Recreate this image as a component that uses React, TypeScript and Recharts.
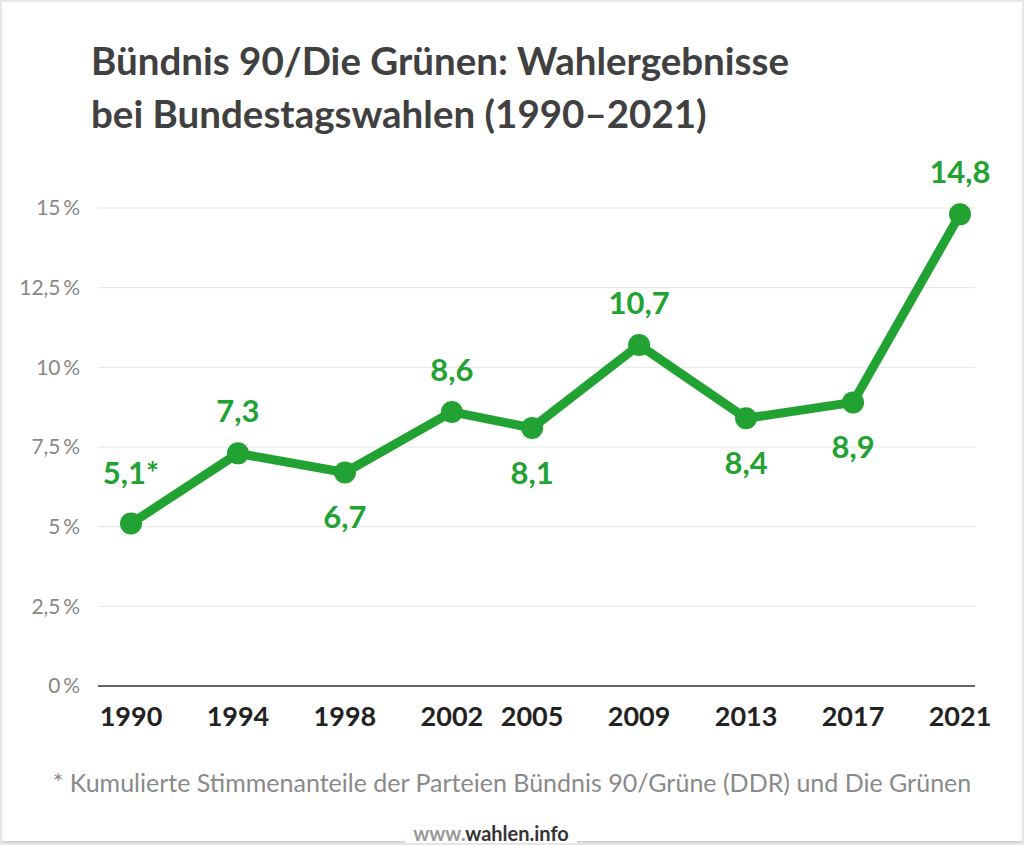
import { LineChart, Line, XAxis, YAxis, CartesianGrid, LabelList } from "recharts";

const years = [1990, 1994, 1998, 2002, 2005, 2009, 2013, 2017, 2021];
const shares = [5.1, 7.3, 6.7, 8.6, 8.1, 10.7, 8.4, 8.9, 14.8];
const pointLabels = ["5,1*", "7,3", "6,7", "8,6", "8,1", "10,7", "8,4", "8,9", "14,8"];
const yTicks = [0, 2.5, 5, 7.5, 10, 12.5, 15];

const data = years.map((year, i) => ({ year, share: shares[i] }));

const GREEN = "#21a232";
const FONT = "Lato, 'Open Sans', sans-serif";

// labels that sit under their point instead of above
const labelsBelow = new Set([1998, 2005, 2013, 2017]);

const formatPct = (v: number) => `${String(v).replace(".", ",")}\u2009%`;

function PointLabel(props: any) {
  const { x, y, index } = props;
  const below = labelsBelow.has(years[index]);
  const offset = below ? 44 : index === 0 ? 51 : 43;
  return (
    <text
      x={x}
      y={below ? y + offset : y - offset}
      textAnchor="middle"
      dominantBaseline="central"
      fill={GREEN}
      fontFamily={FONT}
      fontWeight={700}
      fontSize={31}
    >
      {pointLabels[index]}
    </text>
  );
}

export default function App() {
  return (
    <div
      style={{
        position: "absolute",
        top: 0,
        left: 0,
        width: 1024,
        height: 845,
        background: "#fff",
        fontFamily: FONT,
        overflow: "hidden",
      }}
    >
      <div
        style={{
          position: "absolute",
          left: 91,
          top: 34,
          fontSize: 38.5,
          fontWeight: 700,
          lineHeight: "53px",
          color: "#404040",
          whiteSpace: "nowrap",
        }}
      >
        Bündnis 90/Die Grünen: Wahlergebnisse
        <br />
        bei Bundestagswahlen (1990–2021)
      </div>

      <div style={{ position: "absolute", top: 0, left: 0 }}>
        <LineChart
          width={1024}
          height={845}
          data={data}
          margin={{ top: 208, right: 49, bottom: 99, left: 8 }}
        >
          <CartesianGrid vertical={false} stroke="#e6e6e6" strokeWidth={1} />
          <XAxis
            dataKey="year"
            type="number"
            domain={[1990, 2021]}
            ticks={years}
            padding={{ left: 33, right: 15 }}
            height={60}
            axisLine={{ stroke: "#333", strokeWidth: 1.5 }}
            tickLine={false}
            tickSize={0}
            tickMargin={21}
            tick={{ fontSize: 27, fontWeight: 700, fill: "#222", fontFamily: FONT }}
            interval={0}
          />
          <YAxis
            domain={[0, 15]}
            ticks={yTicks}
            width={90}
            axisLine={false}
            tickLine={false}
            tickSize={0}
            tickMargin={18}
            tickFormatter={formatPct}
            tick={{ fontSize: 21, fill: "#888", fontFamily: FONT }}
          />
          <Line
            dataKey="share"
            stroke={GREEN}
            strokeWidth={9}
            strokeLinejoin="round"
            dot={{ r: 11, fill: GREEN, stroke: "none" }}
            activeDot={false}
            isAnimationActive={false}
          >
            <LabelList dataKey="share" content={<PointLabel />} />
          </Line>
        </LineChart>
      </div>

      <div
        style={{
          position: "absolute",
          top: 767,
          left: 0,
          width: 1024,
          textAlign: "center",
          fontSize: 25,
          color: "#8a8a8a",
          whiteSpace: "nowrap",
        }}
      >
        * Kumulierte Stimmenanteile der Parteien Bündnis 90/Grüne (DDR) und Die Grünen
      </div>

      <div style={{ position: "absolute", top: 841, left: 0, width: 405, height: 2, background: "#d4d4d4" }} />
      <div style={{ position: "absolute", top: 841, left: 577, width: 447, height: 2, background: "#d4d4d4" }} />
      <div
        style={{
          position: "absolute",
          top: 821,
          left: 405,
          width: 172,
          textAlign: "center",
          fontSize: 20,
          fontWeight: 700,
          color: "#333",
        }}
      >
        <span style={{ color: "#999" }}>www.</span>wahlen.info
      </div>

      <div
        style={{
          position: "absolute",
          inset: 0,
          border: "2px solid #e6e6e6",
          pointerEvents: "none",
        }}
      />
    </div>
  );
}
